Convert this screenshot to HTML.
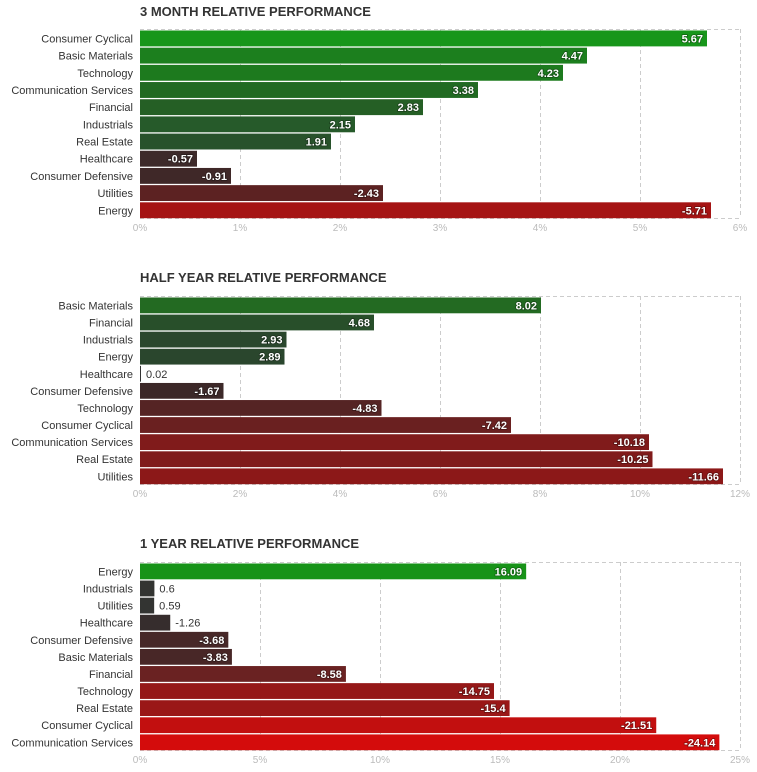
<!DOCTYPE html>
<html><head><meta charset="utf-8">
<style>
html,body{margin:0;padding:0;background:#fff;width:757px;height:772px;overflow:hidden}
svg{display:block;font-family:"Liberation Sans",sans-serif}
</style></head>
<body>
<svg id="chart" width="757" height="772"></svg>
<script>
const c1Categories = ["Consumer Cyclical","Basic Materials","Technology","Communication Services","Financial","Industrials","Real Estate","Healthcare","Consumer Defensive","Utilities","Energy"];
const c1Values = [5.67,4.47,4.23,3.38,2.83,2.15,1.91,-0.57,-0.91,-2.43,-5.71];
const c1Colors = ["#17961a","#1c7f1e","#1d7a1e","#216a22","#255f25","#265a2a","#28522b","#3d2a2a","#3f2828","#5c2222","#a51414"];
const c1Ticks = [0,1,2,3,4,5,6];

const c2Categories = ["Basic Materials","Financial","Industrials","Energy","Healthcare","Consumer Defensive","Technology","Consumer Cyclical","Communication Services","Real Estate","Utilities"];
const c2Values = [8.02,4.68,2.93,2.89,0.02,-1.67,-4.83,-7.42,-10.18,-10.25,-11.66];
const c2Colors = ["#236a22","#284f2a","#2a472d","#2a462d","#333333","#3c2828","#552424","#6a2020","#801b1b","#801b1b","#8c1818"];
const c2Ticks = [0,2,4,6,8,10,12];

const c3Categories = ["Energy","Industrials","Utilities","Healthcare","Consumer Defensive","Basic Materials","Financial","Technology","Real Estate","Consumer Cyclical","Communication Services"];
const c3Values = [16.09,0.6,0.59,-1.26,-3.68,-3.83,-8.58,-14.75,-15.4,-21.51,-24.14];
const c3Colors = ["#179318","#333432","#333432","#362d2d","#472828","#482727","#6a2222","#951818","#9a1717","#c20f0f","#d40c0c"];
const c3Ticks = [0,5,10,15,20,25];

const svg = document.getElementById('chart');
const NS = 'http://www.w3.org/2000/svg';
function mk(tag, attrs, parent){const e=document.createElementNS(NS,tag);for(const k in attrs)e.setAttribute(k,attrs[k]);(parent||svg).appendChild(e);return e;}

function drawChart(id, title, titleY, top, bottom, cats, vals, cols, ticks){
  const g = mk('g',{});
  
  
  const left=140, right=740, maxV=ticks[ticks.length-1];
  const x = v => left + (Math.abs(v)/maxV)*(right-left);
  const band = (bottom-top)/cats.length;
  const t = mk('text',{x:left,y:titleY,'font-size':13,'font-weight':'bold',fill:'#333'},g);
  t.textContent = title;
  
  
  // grid
  ticks.forEach(tv=>{
    const gx = x(tv)+0.5;
    if(tv>0){const l=mk('line',{x1:gx,x2:gx,y1:top,y2:bottom,stroke:'#ccc','stroke-dasharray':'4,3'},g);
      
      }
    const lab = mk('text',{x:x(tv),y:bottom+13,'font-size':10,fill:'#bbb','text-anchor':'middle'},g);
    lab.textContent = tv+'%';
    
    
  });
  mk('line',{x1:left,x2:right,y1:top+0.5,y2:top+0.5,stroke:'#ccc','stroke-dasharray':'4,3'},g);
  mk('line',{x1:left,x2:right,y1:bottom+0.5,y2:bottom+0.5,stroke:'#ccc','stroke-dasharray':'4,3'},g);
  cats.forEach((cat,i)=>{
    const y0 = top + i*band + 1.5;
    const h = band - 1.3;
    const w = Math.max(x(vals[i])-left,1);
    const r = mk('rect',{x:left,y:y0,width:w,height:h,fill:cols[i]},g);
    
    
    const cl = mk('text',{x:133,y:y0+h/2+4,'font-size':11,fill:'#333','text-anchor':'end'},g);
    cl.textContent = cat;
    
    
    const inside = w > 40;
    const vl = mk('text',{x: inside ? left+w-4 : left+w+5, y:y0+h/2+4,'font-size':11,
      'font-weight': inside?'bold':'normal', fill: inside?'#fff':'#333','text-anchor': inside?'end':'start'},g);
    if(inside) vl.setAttribute('style','paint-order:stroke;stroke:rgba(0,0,0,0.35);stroke-width:1.5px');
    vl.textContent = String(vals[i]);
    
    
  });
}
drawChart('three-month-chart','3 MONTH RELATIVE PERFORMANCE',16,29,218,c1Categories,c1Values,c1Colors,c1Ticks);
drawChart('half-year-chart','HALF YEAR RELATIVE PERFORMANCE',282,296,484,c2Categories,c2Values,c2Colors,c2Ticks);
drawChart('one-year-chart','1 YEAR RELATIVE PERFORMANCE',548,562,750,c3Categories,c3Values,c3Colors,c3Ticks);
</script>
</body></html>
